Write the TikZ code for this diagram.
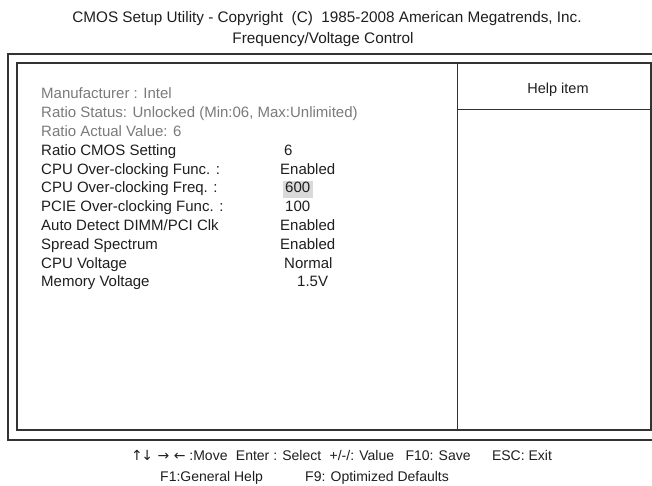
\documentclass[tikz,border=0pt]{standalone}
\usepackage{fontspec}
\setmainfont{Liberation Sans}
\newfontfamily\arrowfont{DejaVu Sans}
\definecolor{txtgray}{HTML}{7A7A7A}
\definecolor{txtdark}{HTML}{1E1E1E}
\definecolor{framegray}{HTML}{333333}
\definecolor{hilite}{HTML}{D9D9D9}
\begin{document}
\begin{tikzpicture}[x=1pt,y=-1pt,
  lbl/.style={anchor=base west,inner sep=0pt,font=\fontsize{15}{17}\selectfont,text=txtdark},
  dim/.style={lbl,text=txtgray},
  val/.style={lbl},
  ttl/.style={anchor=base,inner sep=0pt,font=\fontsize{15.3}{17}\selectfont,text=txtdark},
  foot/.style={anchor=base west,inner sep=0pt,font=\fontsize{14}{17}\selectfont,text=txtdark},
  frame/.style={draw=framegray,line width=1.3pt}]
\useasboundingbox (0,0) rectangle (652,485);
\begin{scope}
\clip (0,0) rectangle (652,485);
\draw[frame] (8,54) rectangle (670,440);
\draw[frame,line width=1.1pt] (17,63) rectangle (651,430);
\end{scope}
\coordinate (divT) at (457.5,63);
\coordinate (divB) at (457.5,430);
\draw[frame,line width=1.1pt] (divT) -- (divB);
\coordinate (helpL) at (457.5,109);
\coordinate (helpR) at (651,109);
\draw[draw=framegray,line width=0.9pt] (helpL) -- (helpR);
% titles
\node[ttl] (t1) at (327,22.5) {CMOS Setup Utility - Copyright\ \ (C)\ \ 1985-2008 American Megatrends, Inc.};
\node[ttl] (t2) at (323,43.5) {Frequency/Voltage Control};
\node[ttl,font=\fontsize{14.5}{17}\selectfont] (help) at (558,93) {Help item};
% highlight
\fill[hilite] (283,181) rectangle (313,197.5);
% items
\node[dim] (m1) at (41,98.5) {Manufacturer : Intel};
\node[dim] (m2) at (41,117.5) {Ratio Status: Unlocked (Min:06, Max:Unlimited)};
\node[dim] (m3) at (41,136.5) {Ratio Actual Value: 6};
\node[lbl] (i1) at (41,155.3) {Ratio CMOS Setting};
\node[lbl] (i2) at (41,174.1) {CPU Over-clocking Func. :};
\node[lbl] (i3) at (41,192.9) {CPU Over-clocking Freq. :};
\node[lbl] (i4) at (41,211.7) {PCIE Over-clocking Func. :};
\node[lbl] (i5) at (41,230.5) {Auto Detect DIMM/PCI Clk};
\node[lbl] (i6) at (41,249.3) {Spread Spectrum};
\node[lbl] (i7) at (41,268.1) {CPU Voltage};
\node[lbl] (i8) at (41,286.9) {Memory Voltage};
\node[val] (v1) at (284,155.3) {6};
\node[val] (v2) at (280,174.1) {Enabled};
\node[val] (v3) at (285,192.9) {600};
\node[val] (v4) at (285,211.7) {100};
\node[val] (v5) at (280,230.5) {Enabled};
\node[val] (v6) at (280,249.3) {Enabled};
\node[val] (v7) at (284,268.1) {Normal};
\node[val] (v8) at (297,286.9) {1.5V};
% footer
\node[foot] (f1a) at (131,460) {{\arrowfont ↑\kern-1.5pt↓ → ←} :Move};
\node[foot] (f1b) at ([xshift=8pt]f1a.base east) {Enter : Select};
\node[foot] (f1c) at ([xshift=8pt]f1b.base east) {+/-/: Value};
\node[foot] (f1d) at ([xshift=11pt]f1c.base east) {F10: Save};
\node[foot] (f1e) at ([xshift=21pt]f1d.base east) {ESC: Exit};
\node[foot] (f2a) at (160,481) {F1:General Help};
\node[foot] (f2b) at (305,481) {F9: Optimized Defaults};
\end{tikzpicture}
\end{document}
